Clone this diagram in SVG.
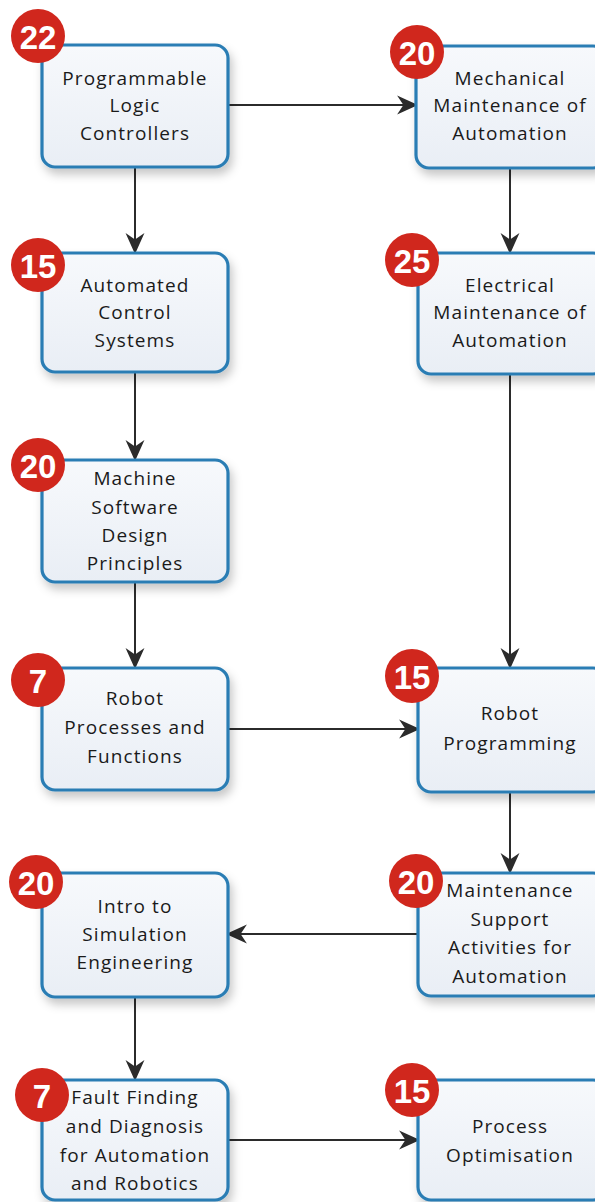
<svg xmlns="http://www.w3.org/2000/svg" width="595" height="1202" viewBox="0 0 595 1202">
<defs>
<linearGradient id="boxfill" x1="0" y1="0" x2="0" y2="1">
<stop offset="0" stop-color="#f7f9fc"/>
<stop offset="1" stop-color="#e9eef5"/>
</linearGradient>
<filter id="shadow" x="-20%" y="-20%" width="140%" height="150%">
<feDropShadow dx="3" dy="6" stdDeviation="5" flood-color="#000" flood-opacity="0.22"/>
</filter>
<marker id="arrow" viewBox="0 0 20 20" refX="18" refY="10" markerWidth="21" markerHeight="21" markerUnits="userSpaceOnUse" orient="auto">
<path d="M0,1 L20,10 L0,19 L6,10 Z" fill="#2b2b2b"/>
</marker>
</defs>
<style>
.box{fill:url(#boxfill);stroke:#2a7db4;stroke-width:3.2;filter:url(#shadow)}
.lbl{font-family:"Open Sans","Liberation Sans",sans-serif;font-size:19px;fill:#1a1a1a;text-anchor:middle;dominant-baseline:central;letter-spacing:1.1px}
.badge{fill:#d0271d}
.num{font-family:"Liberation Sans",Arial,sans-serif;font-size:33px;font-weight:bold;fill:#fff;text-anchor:middle;dominant-baseline:central}
.conn{stroke:#2b2b2b;stroke-width:2;fill:none;marker-end:url(#arrow)}
</style>
<rect width="595" height="1202" fill="#ffffff"/>
<g id="connectors">
<path class="conn" d="M228,105 H416"/>
<path class="conn" d="M135,167 V252"/>
<path class="conn" d="M510,167 V252"/>
<path class="conn" d="M135,372 V459"/>
<path class="conn" d="M510,374 V667"/>
<path class="conn" d="M135,582 V667"/>
<path class="conn" d="M228,729 H418"/>
<path class="conn" d="M510,792 V872"/>
<path class="conn" d="M418,934 H228"/>
<path class="conn" d="M135,997 V1079"/>
<path class="conn" d="M228,1140 H418"/>
</g>
<g id="node-plc">
<rect class="box" x="42" y="45" width="186" height="122" rx="13"/>
<text class="lbl" x="135" y="78">Programmable</text>
<text class="lbl" x="135" y="105">Logic</text>
<text class="lbl" x="135" y="133">Controllers</text>
<circle class="badge" cx="38" cy="36" r="27"/>
<text class="num" x="38" y="37">22</text>
</g>
<g id="node-mech">
<rect class="box" x="416" y="46" width="190" height="122" rx="13"/>
<text class="lbl" x="510" y="78">Mechanical</text>
<text class="lbl" x="510" y="105">Maintenance of</text>
<text class="lbl" x="510" y="133">Automation</text>
<circle class="badge" cx="417" cy="52" r="27"/>
<text class="num" x="417" y="53">20</text>
</g>
<g id="node-acs">
<rect class="box" x="42" y="253" width="186" height="119" rx="13"/>
<text class="lbl" x="135" y="285">Automated</text>
<text class="lbl" x="135" y="312">Control</text>
<text class="lbl" x="135" y="340">Systems</text>
<circle class="badge" cx="38" cy="265" r="27"/>
<text class="num" x="38" y="266">15</text>
</g>
<g id="node-elec">
<rect class="box" x="418" y="253" width="188" height="121" rx="13"/>
<text class="lbl" x="510" y="285">Electrical</text>
<text class="lbl" x="510" y="312">Maintenance of</text>
<text class="lbl" x="510" y="340">Automation</text>
<circle class="badge" cx="412" cy="260" r="27"/>
<text class="num" x="412" y="261">25</text>
</g>
<g id="node-msd">
<rect class="box" x="42" y="460" width="186" height="122" rx="13"/>
<text class="lbl" x="135" y="478">Machine</text>
<text class="lbl" x="135" y="507">Software</text>
<text class="lbl" x="135" y="535">Design</text>
<text class="lbl" x="135" y="563">Principles</text>
<circle class="badge" cx="38" cy="465" r="27"/>
<text class="num" x="38" y="466">20</text>
</g>
<g id="node-rpf">
<rect class="box" x="42" y="668" width="186" height="122" rx="13"/>
<text class="lbl" x="135" y="698">Robot</text>
<text class="lbl" x="135" y="727">Processes and</text>
<text class="lbl" x="135" y="756">Functions</text>
<circle class="badge" cx="38" cy="680" r="27"/>
<text class="num" x="38" y="681">7</text>
</g>
<g id="node-rp">
<rect class="box" x="418" y="668" width="188" height="124" rx="13"/>
<text class="lbl" x="510" y="713">Robot</text>
<text class="lbl" x="510" y="743">Programming</text>
<circle class="badge" cx="412" cy="676" r="27"/>
<text class="num" x="412" y="677">15</text>
</g>
<g id="node-sim">
<rect class="box" x="42" y="873" width="186" height="124" rx="13"/>
<text class="lbl" x="135" y="906">Intro to</text>
<text class="lbl" x="135" y="934">Simulation</text>
<text class="lbl" x="135" y="962">Engineering</text>
<circle class="badge" cx="36" cy="882" r="27"/>
<text class="num" x="36" y="883">20</text>
</g>
<g id="node-msa">
<rect class="box" x="418" y="873" width="188" height="123" rx="13"/>
<text class="lbl" x="510" y="890">Maintenance</text>
<text class="lbl" x="510" y="919">Support</text>
<text class="lbl" x="510" y="947">Activities for</text>
<text class="lbl" x="510" y="976">Automation</text>
<circle class="badge" cx="416" cy="881" r="27"/>
<text class="num" x="416" y="882">20</text>
</g>
<g id="node-ffd">
<rect class="box" x="42" y="1080" width="186" height="120" rx="13"/>
<text class="lbl" x="135" y="1097">Fault Finding</text>
<text class="lbl" x="135" y="1126">and Diagnosis</text>
<text class="lbl" x="135" y="1155">for Automation</text>
<text class="lbl" x="135" y="1183">and Robotics</text>
<circle class="badge" cx="42" cy="1095" r="27"/>
<text class="num" x="42" y="1096">7</text>
</g>
<g id="node-po">
<rect class="box" x="418" y="1080" width="188" height="120" rx="13"/>
<text class="lbl" x="510" y="1126">Process</text>
<text class="lbl" x="510" y="1155">Optimisation</text>
<circle class="badge" cx="412" cy="1090" r="27"/>
<text class="num" x="412" y="1091">15</text>
</g>
</svg>
